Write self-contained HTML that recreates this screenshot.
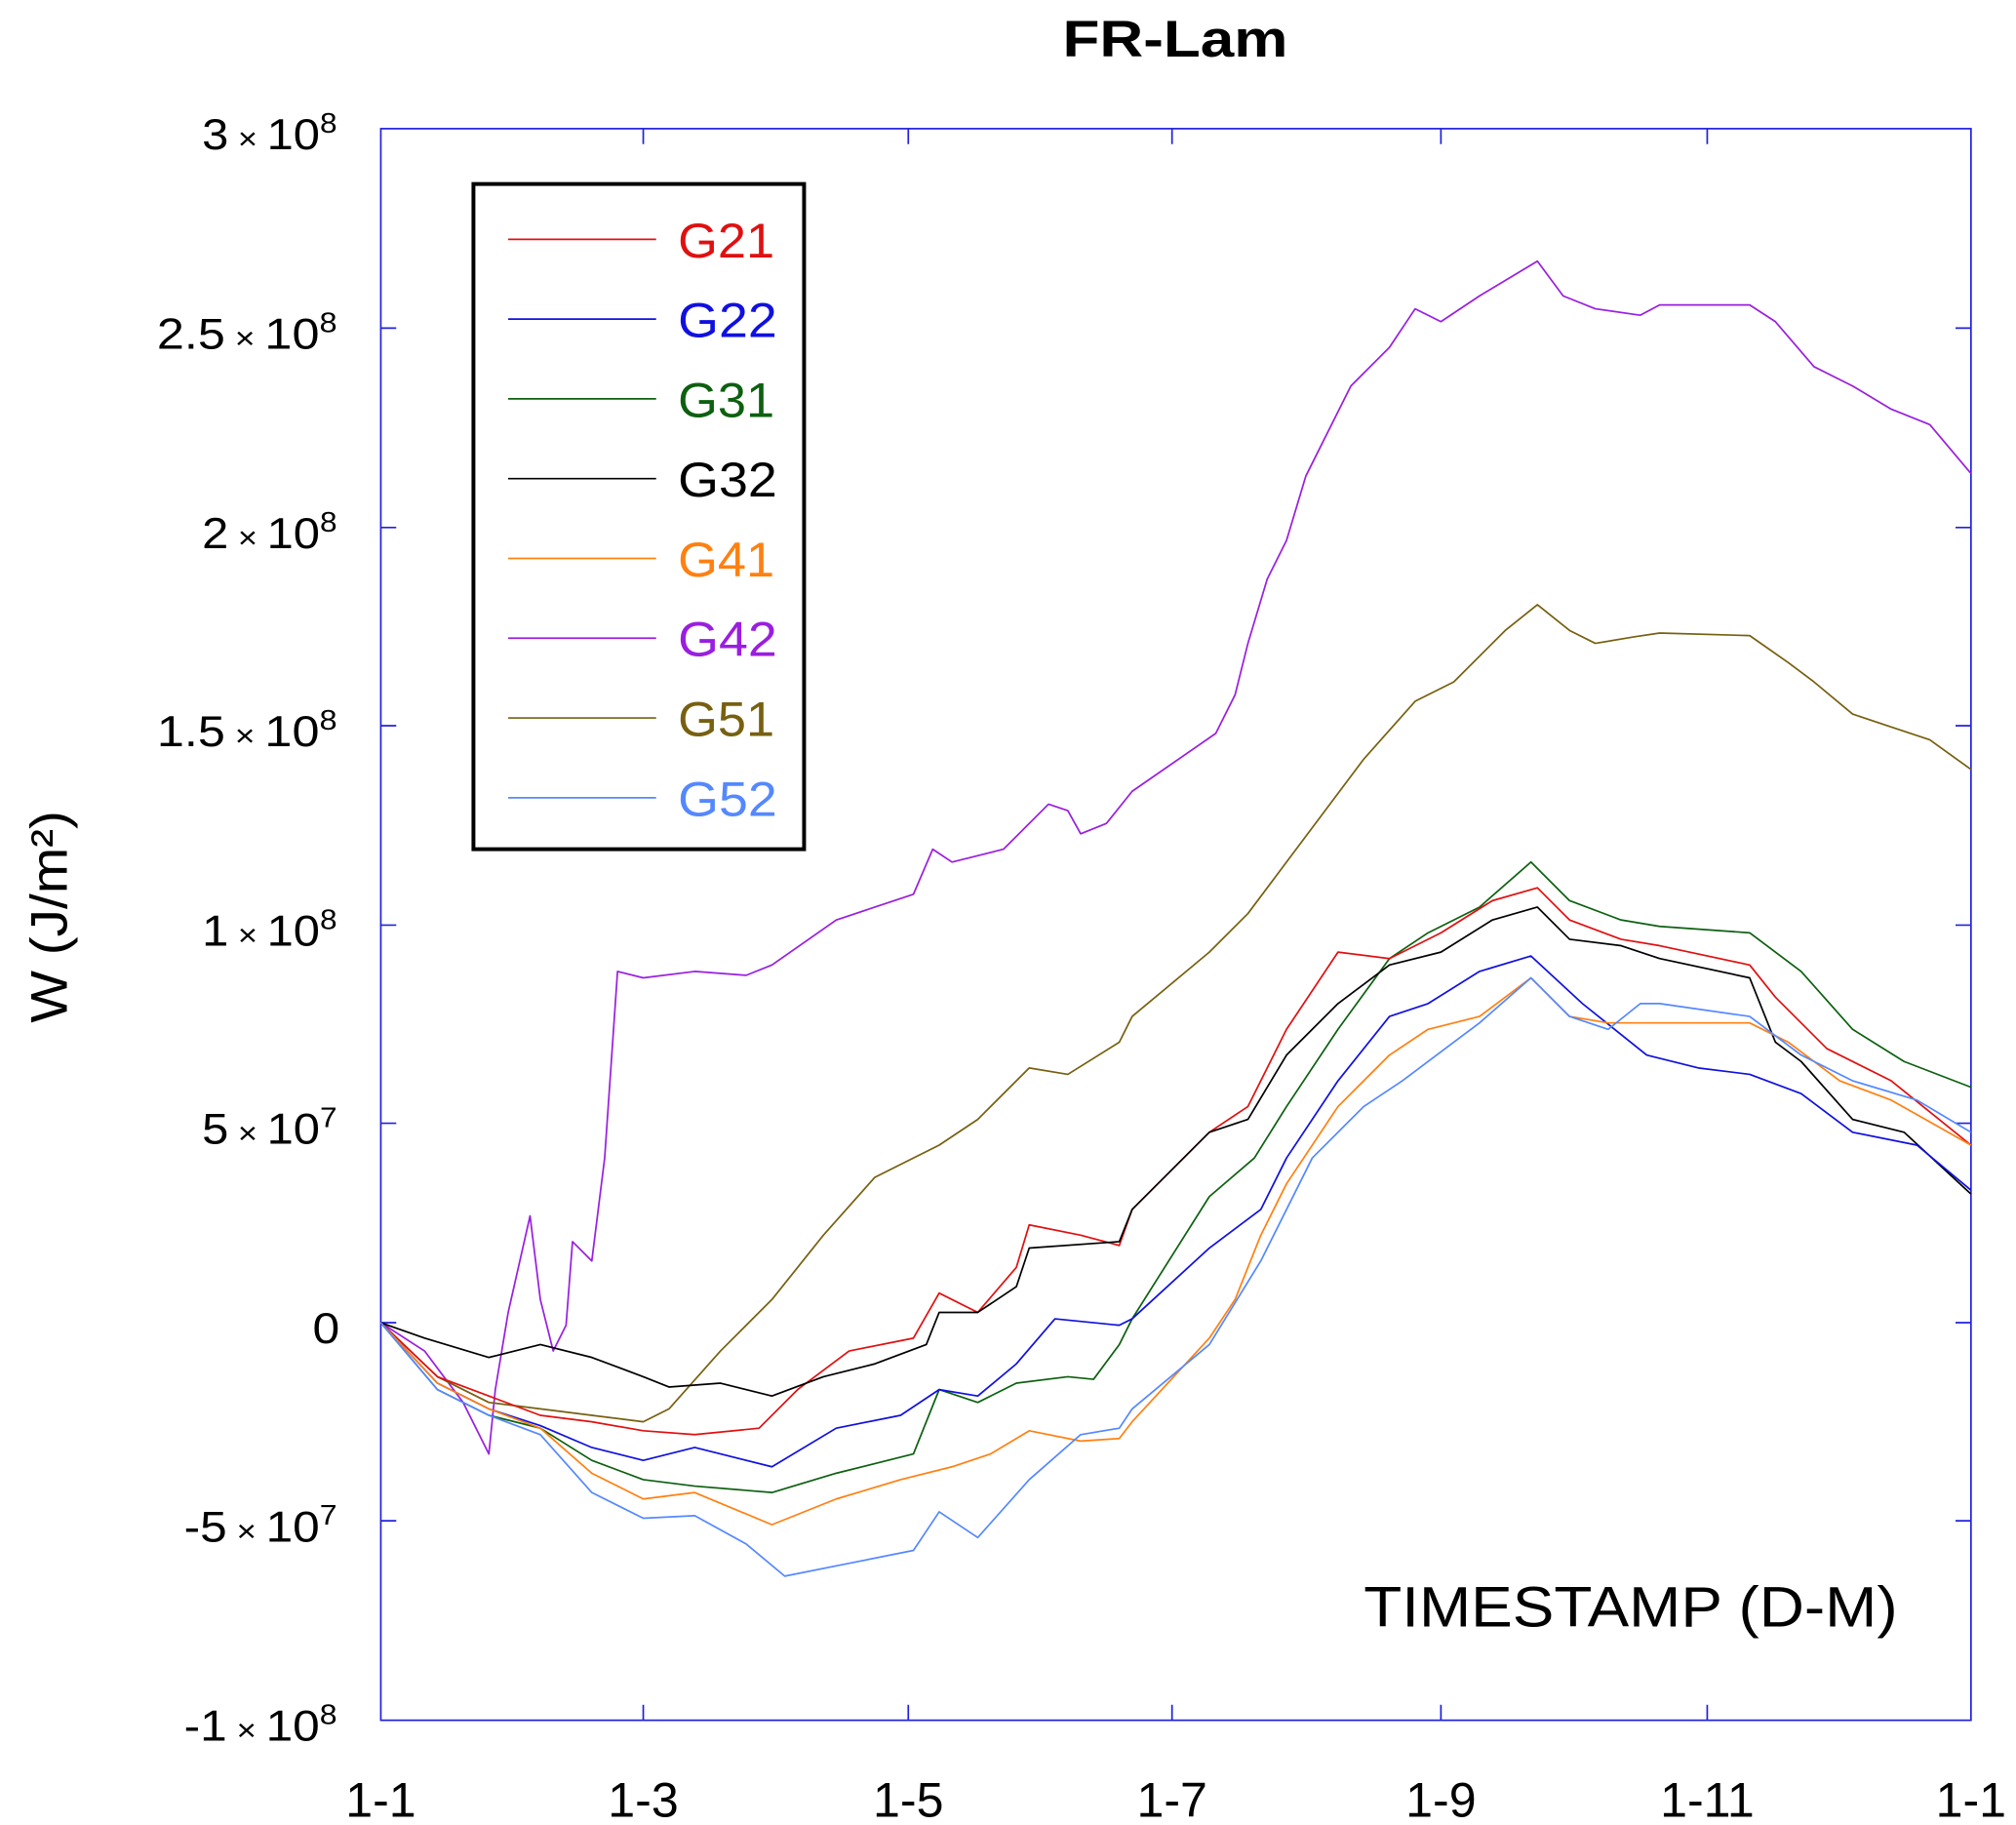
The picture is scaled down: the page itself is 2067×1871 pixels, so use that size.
<!DOCTYPE html>
<html><head><meta charset="utf-8"><style>
html,body{margin:0;padding:0;background:#fff;}
svg{display:block;}
text{font-family:"Liberation Sans",sans-serif;}
</style></head><body>
<svg width="2067" height="1871" viewBox="0 0 1567 1418.4" preserveAspectRatio="none" xmlns="http://www.w3.org/2000/svg">
<rect width="1567" height="1419" fill="#fff"/>
<text x="826" y="44" font-size="40" font-weight="bold" textLength="175" lengthAdjust="spacingAndGlyphs">FR-Lam</text>
<rect x="296" y="100" width="1236" height="1237" fill="none" stroke="#2222dd" stroke-width="1.3"/>
<g stroke="#2222dd" stroke-width="1.3">
<path d="M296,255h12M296,410h12M296,564h12M296,719h12M296,873h12M296,1028h12M296,1182h12"/>
<path d="M1532,255h-12M1532,410h-12M1532,564h-12M1532,719h-12M1532,873h-12M1532,1028h-12M1532,1182h-12"/>
<path d="M500,1337v-12M706,1337v-12M911,1337v-12M1120,1337v-12M1327,1337v-12"/>
<path d="M500,100v12M706,100v12M911,100v12M1120,100v12M1327,100v12"/>
</g>
<g font-size="34">
<text x="157" y="116" textLength="105" lengthAdjust="spacingAndGlyphs">3<tspan font-size="24"> × </tspan>10<tspan font-size="22" dy="-13">8</tspan></text>
<text x="122" y="271" textLength="140" lengthAdjust="spacingAndGlyphs">2.5<tspan font-size="24"> × </tspan>10<tspan font-size="22" dy="-13">8</tspan></text>
<text x="157" y="426" textLength="105" lengthAdjust="spacingAndGlyphs">2<tspan font-size="24"> × </tspan>10<tspan font-size="22" dy="-13">8</tspan></text>
<text x="122" y="580" textLength="140" lengthAdjust="spacingAndGlyphs">1.5<tspan font-size="24"> × </tspan>10<tspan font-size="22" dy="-13">8</tspan></text>
<text x="157" y="735" textLength="105" lengthAdjust="spacingAndGlyphs">1<tspan font-size="24"> × </tspan>10<tspan font-size="22" dy="-13">8</tspan></text>
<text x="157" y="889" textLength="105" lengthAdjust="spacingAndGlyphs">5<tspan font-size="24"> × </tspan>10<tspan font-size="22" dy="-13">7</tspan></text>
<text x="243" y="1044" textLength="21" lengthAdjust="spacingAndGlyphs">0</text>
<text x="143" y="1198" textLength="119" lengthAdjust="spacingAndGlyphs">-5<tspan font-size="24"> × </tspan>10<tspan font-size="22" dy="-13">7</tspan></text>
<text x="143" y="1353" textLength="119" lengthAdjust="spacingAndGlyphs">-1<tspan font-size="24"> × </tspan>10<tspan font-size="22" dy="-13">8</tspan></text>
</g>
<g font-size="38" text-anchor="middle">
<text x="296" y="1412">1-1</text><text x="500" y="1412">1-3</text><text x="706" y="1412">1-5</text>
<text x="911" y="1412">1-7</text><text x="1120" y="1412">1-9</text><text x="1327" y="1412">1-11</text><text x="1532" y="1412">1-1</text>
</g>
<text transform="translate(52,795) rotate(-90)" font-size="40" textLength="165" lengthAdjust="spacingAndGlyphs">W (J/m²)</text>
<text x="1060" y="1264" font-size="44" textLength="415" lengthAdjust="spacingAndGlyphs">TIMESTAMP (D-M)</text>
<g id="series" fill="none" stroke-width="1.3" stroke-linejoin="round">
<polyline stroke="#9a1ee0" points="296,1028 330,1050 360,1090 380,1130 385,1080 395,1020 412,945 420,1010 430,1050 440,1030 445,965 455,975 460,980 470,900 480,755 500,760 540,755 580,758 600,750 650,715 680,705 710,695 725,660 740,670 780,660 815,625 830,630 840,648 860,640 880,615 945,570 960,540 970,500 985,450 1000,420 1015,370 1050,300 1080,270 1100,240 1120,250 1150,230 1195,203 1215,230 1240,240 1275,245 1290,237 1360,237 1380,250 1410,285 1440,300 1470,318 1500,330 1532,368"/>
<polyline stroke="#776010" points="296,1028 340,1070 380,1090 420,1095 460,1100 500,1105 520,1095 560,1050 600,1010 640,960 680,915 730,890 760,870 800,830 830,835 870,810 880,790 940,740 970,710 1000,670 1030,630 1060,590 1100,545 1130,530 1170,490 1195,470 1220,490 1240,500 1270,495 1290,492 1360,494 1390,515 1410,530 1440,555 1470,565 1500,575 1532,598"/>
<polyline stroke="#0d6010" points="296,1028 340,1080 380,1100 420,1110 460,1135 500,1150 540,1155 600,1160 650,1145 710,1130 730,1080 760,1090 790,1075 830,1070 850,1072 870,1045 880,1025 940,930 975,900 1000,860 1040,800 1080,745 1110,725 1150,705 1190,670 1220,700 1260,715 1290,720 1360,725 1400,755 1440,800 1480,825 1532,845"/>
<polyline stroke="#e01010" points="296,1028 340,1070 380,1085 420,1100 460,1105 500,1112 540,1115 590,1110 620,1080 660,1050 710,1040 730,1005 760,1020 790,985 800,952 840,960 870,968 880,940 940,880 970,860 1000,800 1040,740 1080,745 1120,725 1160,700 1195,690 1220,715 1260,730 1290,735 1360,750 1380,775 1420,815 1470,840 1532,890"/>
<polyline stroke="#000" points="296,1028 330,1040 380,1055 420,1045 460,1055 500,1070 520,1078 560,1075 600,1085 640,1070 680,1060 720,1045 730,1020 760,1020 790,1000 800,970 870,965 880,940 940,880 970,870 1000,820 1040,780 1080,750 1120,740 1160,715 1195,705 1220,730 1260,735 1290,745 1360,760 1380,810 1400,825 1440,870 1480,880 1532,928"/>
<polyline stroke="#1010e0" points="296,1028 340,1075 380,1095 420,1108 460,1125 500,1135 540,1125 600,1140 650,1110 700,1100 730,1080 760,1085 790,1060 820,1025 870,1030 880,1025 940,970 980,940 1000,900 1040,840 1080,790 1110,780 1150,755 1190,743 1230,780 1280,820 1320,830 1360,835 1400,850 1440,880 1490,890 1532,925"/>
<polyline stroke="#ff8010" points="296,1028 340,1075 380,1095 420,1110 460,1145 500,1165 540,1160 600,1185 650,1165 700,1150 740,1140 770,1130 800,1112 840,1120 870,1118 880,1105 940,1040 960,1010 980,960 1000,920 1040,860 1080,820 1110,800 1150,790 1190,760 1220,790 1250,795 1270,795 1360,795 1390,810 1430,840 1470,855 1532,890"/>
<polyline stroke="#5588ff" points="296,1028 340,1080 380,1100 420,1115 460,1160 500,1180 540,1178 580,1200 610,1225 660,1215 710,1205 730,1175 760,1195 800,1150 840,1115 870,1110 880,1095 940,1045 980,980 1020,900 1060,860 1090,840 1130,810 1150,795 1190,760 1220,790 1250,800 1275,780 1290,780 1360,790 1400,820 1440,840 1490,855 1532,880"/>
</g>
<rect x="368" y="143" width="257" height="517" fill="#fff" stroke="#000" stroke-width="3"/>
<g stroke-width="1.3">
<line x1="395" y1="186" x2="510" y2="186" stroke="#e01010"/>
<line x1="395" y1="248" x2="510" y2="248" stroke="#1010e0"/>
<line x1="395" y1="310" x2="510" y2="310" stroke="#0d6010"/>
<line x1="395" y1="372" x2="510" y2="372" stroke="#000"/>
<line x1="395" y1="434" x2="510" y2="434" stroke="#ff8010"/>
<line x1="395" y1="496" x2="510" y2="496" stroke="#9a1ee0"/>
<line x1="395" y1="558" x2="510" y2="558" stroke="#776010"/>
<line x1="395" y1="620" x2="510" y2="620" stroke="#5588ff"/>
</g>
<g font-size="38">
<text x="527" y="200" fill="#e01010" textLength="75" lengthAdjust="spacingAndGlyphs">G21</text>
<text x="527" y="262" fill="#1010e0" textLength="77" lengthAdjust="spacingAndGlyphs">G22</text>
<text x="527" y="324" fill="#0d6010" textLength="75" lengthAdjust="spacingAndGlyphs">G31</text>
<text x="527" y="386" fill="#000" textLength="77" lengthAdjust="spacingAndGlyphs">G32</text>
<text x="527" y="448" fill="#ff8010" textLength="75" lengthAdjust="spacingAndGlyphs">G41</text>
<text x="527" y="510" fill="#9a1ee0" textLength="77" lengthAdjust="spacingAndGlyphs">G42</text>
<text x="527" y="572" fill="#776010" textLength="75" lengthAdjust="spacingAndGlyphs">G51</text>
<text x="527" y="634" fill="#5588ff" textLength="77" lengthAdjust="spacingAndGlyphs">G52</text>
</g>
</svg>
</body></html>
